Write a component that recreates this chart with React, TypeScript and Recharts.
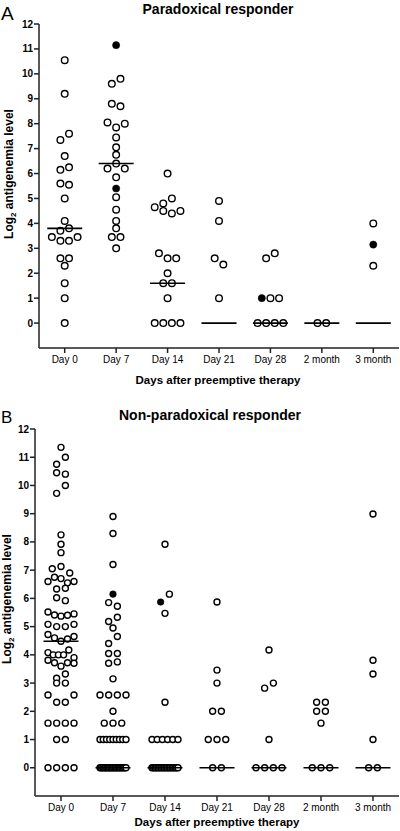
import React from 'react';
import { ScatterChart, Scatter, XAxis, YAxis } from 'recharts';

const DAYS = ['Day 0', 'Day 7', 'Day 14', 'Day 21', 'Day 28', '2 month', '3 month'];
const X_TICKS = [0, 1, 2, 3, 4, 5, 6];
const Y_TICKS = [0, 1, 2, 3, 4, 5, 6, 7, 8, 9, 10, 11, 12];

const zeros = (n: number) => Array(n).fill(0);
const ones = (n: number) => Array(n).fill(1);

// Panel A - paradoxical responder (open circles, filled circles, horizontal bar)
const PARA_OPEN: number[][] = [
  [10.55, 9.2, 7.35, 7.6, 6.7, 6.15, 6.25, 5.6, 5.55, 5.0, 4.1, 3.7, 3.8, 3.45, 3.3, 3.3, 3.45, 2.6, 2.6, 2.3, 1.6, 1.0, 0],
  [9.6, 9.8, 8.8, 8.7, 8.05, 7.85, 8.0, 7.45, 7.05, 6.75, 6.2, 6.4, 6.2, 5.85, 5.05, 4.55, 4.1, 3.8, 3.45, 3.45, 3.0],
  [6.0, 4.8, 5.0, 4.65, 4.5, 4.4, 4.5, 2.8, 2.6, 2.6, 2.0, 1.6, 1.6, 1.0, 0, 0, 0, 0],
  [4.9, 4.1, 2.6, 2.35, 1.0],
  [2.6, 2.8, 1.0, 1.0, 0, 0, 0, 0],
  [0, 0],
  [4.0, 2.3],
];
const PARA_FILLED: number[][] = [[], [11.15, 5.4], [], [], [1.0], [], [3.15]];
const PARA_BAR = [3.8, 6.4, 1.6, 0, 0, 0, 0];

// Panel B - non-paradoxical responder
const NONPARA_OPEN: number[][] = [
  [11.35, 10.75, 11.0, 10.45, 10.4, 9.72, 10.0, 8.25, 7.92, 7.62, 7.05, 7.13, 6.9, 6.6, 6.75, 6.7, 6.55, 6.6,
    6.33, 6.36, 6.02, 5.92, 5.52, 5.41, 5.37, 5.4, 5.45, 5.08, 5.0, 5.0, 5.08, 4.72, 4.6, 4.48, 4.56, 4.65,
    4.08, 4.0, 4.0, 4.0, 4.17, 3.9, 3.81, 3.72, 3.6, 3.72, 3.7, 3.17, 3.32, 3.0, 3.0, 2.58, 2.32, 2.32, 2.58,
    1.58, 1.58, 1.58, 1.58, 1.0, 1.0, 0, 0, 0, 0],
  [8.9, 8.3, 7.2, 5.85, 5.72, 5.18, 5.33, 4.95, 4.4, 4.65, 4.05, 4.05, 3.7, 3.75, 3.15, 2.58, 2.58, 2.58, 2.58,
    2.0, 1.58, 1.58, 1.58, ...ones(9), ...zeros(20)],
  [7.92, 6.15, 5.47, 2.32, ...ones(6), ...zeros(18)],
  [5.87, 3.46, 3.0, 2.0, 2.0, 1.0, 1.0, 1.0, 0, 0],
  [4.17, 2.82, 3.0, 1.0, 0, 0, 0, 0],
  [2.32, 2.32, 2.0, 2.0, 1.58, 0, 0, 0],
  [8.99, 3.81, 3.32, 1.0, 0, 0],
];
const NONPARA_FILLED: number[][] = [[], [6.15], [5.87], [], [], [], []];
const NONPARA_BAR = [4.48, 0, 0, 0, 0, 0, 0];

const FONT = '"Liberation Sans", Arial, Helvetica, sans-serif';

type Dot = { x: number; y: number; filled: boolean };

// prism-like scatter dot layout: values closer than ROW_GAP share a row and get spread sideways
const ROW_GAP = 0.29;
const MAX_STEP = 0.168;
const HALF_SPAN = 0.25;

function layoutDots(open: number[][], filled: number[][]): Dot[] {
  const dots: Dot[] = [];
  open.forEach((vals, i) => {
    const pts = [
      ...(filled[i] || []).map((v) => ({ v, filled: true })),
      ...vals.map((v) => ({ v, filled: false })),
    ].map((p, idx) => ({ ...p, idx }));
    const sorted = [...pts].sort((a, b) => b.v - a.v || a.idx - b.idx);
    let row: typeof pts = [];
    const flush = () => {
      row.sort((a, b) => a.idx - b.idx);
      const n = row.length;
      const step = n > 1 ? Math.min(MAX_STEP, (2 * HALF_SPAN) / (n - 1)) : 0;
      row.forEach((p, j) => dots.push({ x: i + (j - (n - 1) / 2) * step, y: p.v, filled: p.filled }));
      row = [];
    };
    for (const p of sorted) {
      if (row.length && row[0].v - p.v >= ROW_GAP) flush();
      row.push(p);
    }
    flush();
  });
  return dots;
}

const Txt: React.FC<{ x: number; y: number; size: number; bold?: boolean; anchor?: 'left' | 'center'; children: React.ReactNode }> = ({ x, y, size, bold, anchor = 'center', children }) => (
  <div
    style={{
      position: 'absolute',
      left: anchor === 'center' ? x - 150 : x,
      top: y - size / 2 - 2,
      width: anchor === 'center' ? 300 : undefined,
      textAlign: anchor === 'center' ? 'center' : 'left',
      fontFamily: FONT,
      fontSize: size,
      fontWeight: bold ? 'bold' : 'normal',
      lineHeight: `${size + 4}px`,
      color: '#000',
      whiteSpace: 'nowrap',
    }}
  >
    {children}
  </div>
);

const YTitle: React.FC<{ x: number; y: number }> = ({ x, y }) => (
  <div
    style={{
      position: 'absolute',
      left: x - 100,
      top: y - 9,
      width: 200,
      height: 18,
      lineHeight: '18px',
      textAlign: 'center',
      transform: 'rotate(-90deg)',
      fontFamily: FONT,
      fontSize: 12,
      fontWeight: 'bold',
      whiteSpace: 'nowrap',
    }}
  >
    Log<span style={{ fontSize: 8, position: 'relative', top: 3 }}>2</span> antigenemia level
  </div>
);

interface PanelProps {
  top: number;
  height: number;
  marginTop: number;
  yWidth: number;
  xHeight: number;
  r: number;
  open: number[][];
  filled: number[][];
  bars: number[];
}

const Panel: React.FC<PanelProps> = ({ top, height, marginTop, yWidth, xHeight, r, open, filled, bars }) => {
  const dots = layoutDots(open, filled);
  const openDots = dots.filter((d) => !d.filled);
  const filledDots = dots.filter((d) => d.filled);
  const barData = bars.map((y, x) => ({ x, y }));

  return (
    <div style={{ position: 'absolute', left: 0, top, width: 400, height }}>
      <ScatterChart width={400} height={height} margin={{ top: marginTop, right: 1, bottom: 0, left: 0 }}>
        <XAxis
          type="number"
          dataKey="x"
          domain={[-0.5, 6.5]}
          ticks={X_TICKS}
          interval={0}
          tickFormatter={(v: number) => DAYS[v]}
          height={xHeight}
          tickSize={5}
          tickMargin={3}
          axisLine={{ stroke: '#222', strokeWidth: 1.5 }}
          tickLine={{ stroke: '#222', strokeWidth: 1.5 }}
          tick={{ fill: '#000', fontSize: 10, fontFamily: FONT }}
          allowDataOverflow
        />
        <YAxis
          type="number"
          dataKey="y"
          domain={[-1, 12]}
          ticks={Y_TICKS}
          interval={0}
          width={yWidth}
          tickSize={5}
          tickMargin={1}
          axisLine={{ stroke: '#222', strokeWidth: 1.5 }}
          tickLine={{ stroke: '#222', strokeWidth: 1.5 }}
          tick={{ fill: '#000', fontSize: 10, fontWeight: 'bold', fontFamily: FONT }}
          allowDataOverflow
        />
        <Scatter
          data={openDots}
          isAnimationActive={false}
          shape={(p: any) => <circle cx={p.cx} cy={p.cy} r={r} fill="#fff" stroke="#000" strokeWidth={1.4} />}
        />
        <Scatter
          data={filledDots}
          isAnimationActive={false}
          shape={(p: any) => <circle cx={p.cx} cy={p.cy} r={r + 0.3} fill="#000" stroke="#000" strokeWidth={0.5} />}
        />
        <Scatter
          data={barData}
          isAnimationActive={false}
          shape={(p: any) => <line x1={p.cx - 17.5} x2={p.cx + 17.5} y1={p.cy} y2={p.cy} stroke="#000" strokeWidth={1.6} />}
        />
      </ScatterChart>
    </div>
  );
};

export default function App() {
  return (
    <div style={{ position: 'absolute', left: 0, top: 0, width: 400, height: 831, background: '#fff', overflow: 'hidden' }}>
      <Panel top={0} height={400} marginTop={24} yWidth={39} xHeight={52} r={3.3} open={PARA_OPEN} filled={PARA_FILLED} bars={PARA_BAR} />
      <Panel top={400} height={431} marginTop={29} yWidth={35} xHeight={35} r={3.0} open={NONPARA_OPEN} filled={NONPARA_FILLED} bars={NONPARA_BAR} />

      <Txt x={1} y={13} size={19} anchor="left">A</Txt>
      <Txt x={218} y={9} size={14} bold>Paradoxical responder</Txt>
      <YTitle x={9} y={174} />
      <Txt x={218} y={381} size={11.5} bold>Days after preemptive therapy</Txt>

      <Txt x={1} y={417} size={17} anchor="left">B</Txt>
      <Txt x={210} y={415} size={14} bold>Non-paradoxical responder</Txt>
      <YTitle x={7} y={599} />
      <Txt x={217} y={823} size={11.5} bold>Days after preemptive therapy</Txt>
    </div>
  );
}
